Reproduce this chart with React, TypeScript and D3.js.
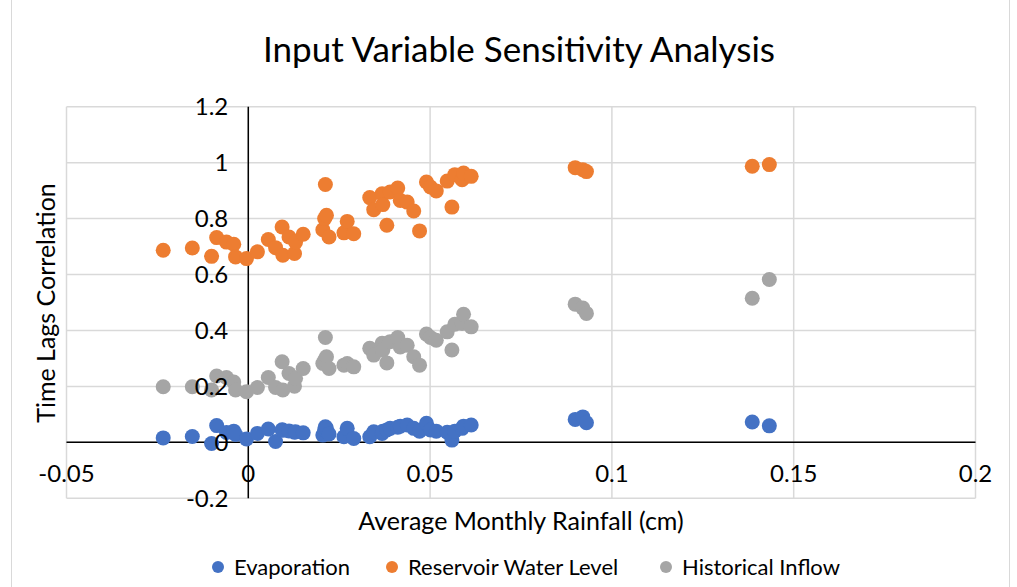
import React from "react";
import * as d3 from "d3";

const rainfall = [
  -0.0234, -0.0154, -0.0101, -0.0087, -0.006, -0.004, -0.0035, -0.0005, 0.0025, 0.0055,
  0.0075, 0.0093, 0.0095, 0.0112, 0.0127, 0.013, 0.0151, 0.0205, 0.021, 0.0212,
  0.0215, 0.0222, 0.0263, 0.0272, 0.029, 0.0334, 0.0345, 0.0368, 0.037, 0.0381,
  0.039, 0.0411, 0.0418, 0.0437, 0.0455, 0.0471, 0.049, 0.0501, 0.0517, 0.0547,
  0.056, 0.0568, 0.0588, 0.0592, 0.0613, 0.0899, 0.092, 0.093, 0.1386, 0.1433,
];

const evaporation = [
  0.016, 0.021, -0.004, 0.06, 0.035, 0.04, 0.028, 0.012, 0.032, 0.048,
  0.003, 0.045, 0.043, 0.041, 0.036, 0.038, 0.034, 0.026, 0.045, 0.056,
  0.05, 0.03, 0.02, 0.05, 0.014, 0.02, 0.038, 0.032, 0.04, 0.044,
  0.05, 0.054, 0.058, 0.062, 0.05, 0.04, 0.068, 0.044, 0.04, 0.036,
  0.008, 0.04, 0.05, 0.058, 0.062, 0.082, 0.091, 0.07, 0.073, 0.059,
];

const reservoirLevel = [
  0.687, 0.695, 0.665, 0.732, 0.716, 0.708, 0.663, 0.657, 0.681, 0.725,
  0.696, 0.77, 0.669, 0.734, 0.675, 0.716, 0.744, 0.76, 0.8, 0.922,
  0.812, 0.734, 0.749, 0.79, 0.746, 0.875, 0.832, 0.889, 0.85, 0.776,
  0.895, 0.909, 0.865, 0.859, 0.827, 0.756, 0.931, 0.913, 0.899, 0.934,
  0.841, 0.957, 0.939, 0.963, 0.951, 0.982, 0.975, 0.968, 0.987, 0.993,
];

const historicalInflow = [
  0.199, 0.199, 0.187, 0.237, 0.232, 0.216, 0.187, 0.181, 0.196, 0.232,
  0.196, 0.288, 0.187, 0.246, 0.201, 0.229, 0.264, 0.282, 0.294, 0.375,
  0.306, 0.264, 0.276, 0.282, 0.27, 0.336, 0.312, 0.354, 0.33, 0.284,
  0.36, 0.375, 0.341, 0.347, 0.306, 0.276, 0.387, 0.375, 0.365, 0.395,
  0.33, 0.422, 0.425, 0.458, 0.413, 0.494, 0.48, 0.461, 0.515, 0.582,
];

const seriesNames = ["Evaporation", "Reservoir Water Level", "Historical Inflow"];
const seriesColors = ["#4472C4", "#ED7D31", "#A5A5A5"];
const seriesValues = [evaporation, reservoirLevel, historicalInflow];

const xTicks = [-0.05, 0, 0.05, 0.1, 0.15, 0.2];
const yTicks = [-0.2, 0, 0.2, 0.4, 0.6, 0.8, 1, 1.2];

const W = 1017;
const H = 587;
const FONT = "Lato, 'Open Sans', sans-serif";

export default function App() {
  const x = d3.scaleLinear().domain([-0.05, 0.2]).range([66.5, 975.5]);
  const y = d3.scaleLinear().domain([-0.2, 1.2]).range([498.3, 106.7]);
  const fmt = (v: number) => String(+v.toFixed(2));

  const legendX = [218, 392, 666];

  return (
    <svg
      width={W}
      height={H}
      style={{ position: "absolute", left: 0, top: 0, background: "#fff" }}
      fontFamily={FONT}
    >
      <rect x={0} y={0} width={W} height={H} fill="#fff" />
      <rect x={11.5} y={-2} width={998} height={H + 4} fill="none" stroke="#d9d9d9" strokeWidth={1} />

      <text x={519} y={50} dy="0.35em" textAnchor="middle" fontSize={35} fill="#000">
        Input Variable Sensitivity Analysis
      </text>

      {/* gridlines */}
      {yTicks.map((t) => (
        <line key={"gy" + t} x1={x(-0.05)} x2={x(0.2)} y1={y(t)} y2={y(t)} stroke="#d9d9d9" strokeWidth={1.5} />
      ))}
      {xTicks.map((t) => (
        <line key={"gx" + t} x1={x(t)} x2={x(t)} y1={y(1.2)} y2={y(-0.2)} stroke="#d9d9d9" strokeWidth={1.5} />
      ))}

      {/* axis lines */}
      <line x1={x(0)} x2={x(0)} y1={y(1.2)} y2={y(-0.2)} stroke="#000" strokeWidth={1.5} />
      <line x1={x(-0.05)} x2={x(0.2)} y1={y(0)} y2={y(0)} stroke="#000" strokeWidth={1.5} />

      {/* points */}
      {seriesValues.map((vals, si) => (
        <g key={"s" + si} fill={seriesColors[si]}>
          {vals.map((v, i) => (
            <circle key={i} cx={x(rainfall[i])} cy={y(v)} r={7.5} />
          ))}
        </g>
      ))}

      {/* tick labels */}
      {yTicks.map((t) => (
        <text key={"ly" + t} x={x(0) - 20} y={y(t)} dy="0.35em" textAnchor="end" fontSize={24} fill="#000">
          {fmt(t)}
        </text>
      ))}
      {xTicks.map((t) => (
        <text key={"lx" + t} x={x(t)} y={y(0) + 31} dy="0.35em" textAnchor="middle" fontSize={24} fill="#000">
          {fmt(t)}
        </text>
      ))}

      {/* axis titles */}
      <text x={521} y={521} dy="0.35em" textAnchor="middle" fontSize={25} fill="#000">
        Average Monthly Rainfall (cm)
      </text>
      <text
        transform={`translate(46,303) rotate(-90)`}
        dy="0.35em"
        textAnchor="middle"
        fontSize={25}
        fill="#000"
      >
        Time Lags Correlation
      </text>

      {/* legend */}
      {seriesNames.map((n, i) => (
        <g key={"lg" + i}>
          <circle cx={legendX[i]} cy={567} r={6} fill={seriesColors[i]} />
          <text x={legendX[i] + 16} y={567} dy="0.35em" fontSize={22} fill="#000">
            {n}
          </text>
        </g>
      ))}
    </svg>
  );
}
